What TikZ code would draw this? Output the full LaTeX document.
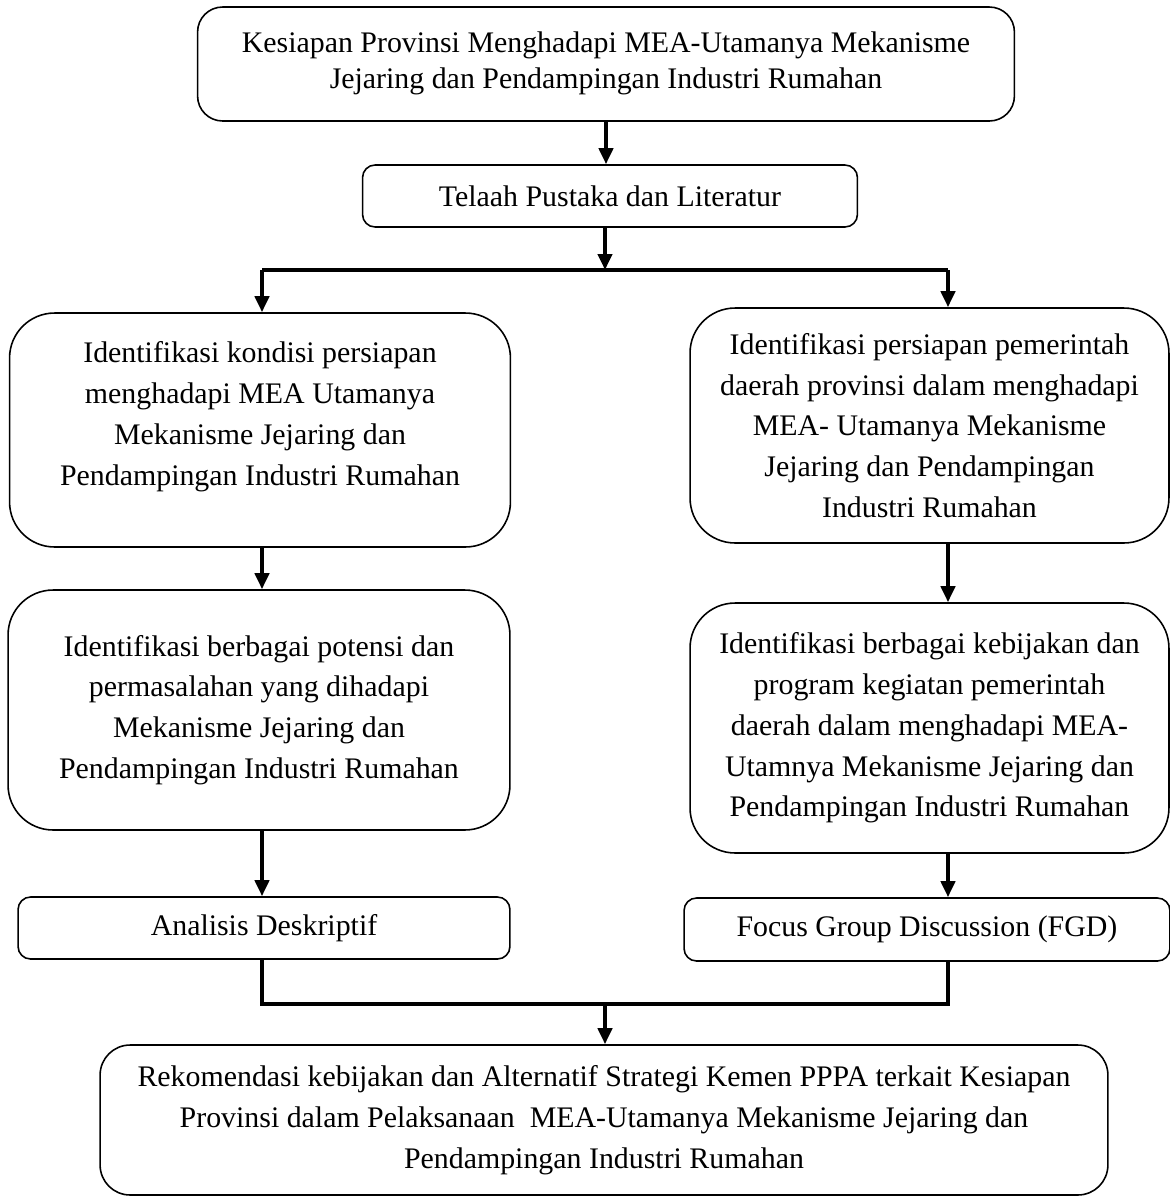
\documentclass[tikz,border=0pt]{standalone}
\usepackage{fontspec}
\setmainfont{Liberation Serif}
\usetikzlibrary{arrows.meta}

\begin{document}
\begin{tikzpicture}[x=0.02cm, y=-0.02cm, >={Triangle[length=0.32cm,width=0.28cm]},
  every node/.style={font=\fontsize{17}{23.2}\selectfont},
  box/.style={draw, line width=0.9pt, align=center, inner sep=0pt},
  arr/.style={->, line width=2.2pt},
  link/.style={line width=2.2pt}]
  \useasboundingbox (0,0) rectangle (1170,1198);
  % boxes
  \node[box, rounded corners=0.5cm, minimum width=16.34cm, minimum height=2.28cm,
        font=\fontsize{17}{20}\selectfont] (top) at (606,64)
    {Kesiapan Provinsi Menghadapi MEA-Utamanya Mekanisme\\ Jejaring dan Pendampingan Industri Rumahan\\[-0.55cm]\mbox{}};
  \node[box, rounded corners=0.25cm, minimum width=9.9cm, minimum height=1.24cm] (telaah) at (610,196)
    {Telaah Pustaka dan Literatur};
  \node[box, rounded corners=0.9cm, minimum width=10.02cm, minimum height=4.68cm] (kondisi) at (260,430)
    {Identifikasi kondisi persiapan\\ menghadapi MEA Utamanya\\ Mekanisme Jejaring dan\\ Pendampingan Industri Rumahan\\[-0.15cm]\mbox{}};
  \node[box, rounded corners=0.9cm, minimum width=9.58cm, minimum height=4.7cm] (pemda) at (929.5,425.5)
    {Identifikasi persiapan pemerintah\\ daerah provinsi dalam menghadapi\\ MEA- Utamanya Mekanisme\\ Jejaring dan Pendampingan\\ Industri Rumahan};
  \node[box, rounded corners=0.9cm, minimum width=10.04cm, minimum height=4.8cm] (potensi) at (259,710)
    {Identifikasi berbagai potensi dan\\ permasalahan yang dihadapi\\ Mekanisme Jejaring dan\\ Pendampingan Industri Rumahan};
  \node[box, rounded corners=0.9cm, minimum width=9.58cm, minimum height=5cm] (kebijakan) at (929.5,728)
    {Identifikasi berbagai kebijakan dan\\ program kegiatan pemerintah\\ daerah dalam menghadapi MEA-\\ Utamnya Mekanisme Jejaring dan\\ Pendampingan Industri Rumahan};
  \node[box, rounded corners=0.25cm, minimum width=9.84cm, minimum height=1.24cm] (analisis) at (264,928)
    {Analisis Deskriptif};
  \node[box, rounded corners=0.25cm, minimum width=9.72cm, minimum height=1.26cm] (fgd) at (927,929.5)
    {Focus Group Discussion (FGD)};
  \node[box, rounded corners=0.6cm, minimum width=20.16cm, minimum height=3cm] (rekom) at (604,1120)
    {Rekomendasi kebijakan dan Alternatif Strategi Kemen PPPA terkait Kesiapan\\ Provinsi dalam Pelaksanaan\ \ MEA-Utamanya Mekanisme Jejaring dan\\ Pendampingan Industri Rumahan};
  % branch points
  \coordinate (pisah) at (605,270);
  \coordinate (kiri) at (262,270);
  \coordinate (kanan) at (948,270);
  \coordinate (gabung) at (605,1004);
  % connectors
  \draw[arr] (top.south) -- (top.south |- telaah.north);
  \draw[arr] (telaah.south -| pisah) -- (pisah);
  \draw[link] (kiri) -- (kanan);
  \draw[arr] (kiri) -- (kiri |- kondisi.north);
  \draw[arr] (kanan) -- (kanan |- pemda.north);
  \draw[arr] (kiri |- kondisi.south) -- (kiri |- potensi.north);
  \draw[arr] (kanan |- pemda.south) -- (kanan |- kebijakan.north);
  \draw[arr] (kiri |- potensi.south) -- (kiri |- analisis.north);
  \draw[arr] (kanan |- kebijakan.south) -- (kanan |- fgd.north);
  \draw[link] (kiri |- analisis.south) |- (gabung) -| (kanan |- fgd.south);
  \draw[arr] (gabung) -- (gabung |- rekom.north);
\end{tikzpicture}
\end{document}
